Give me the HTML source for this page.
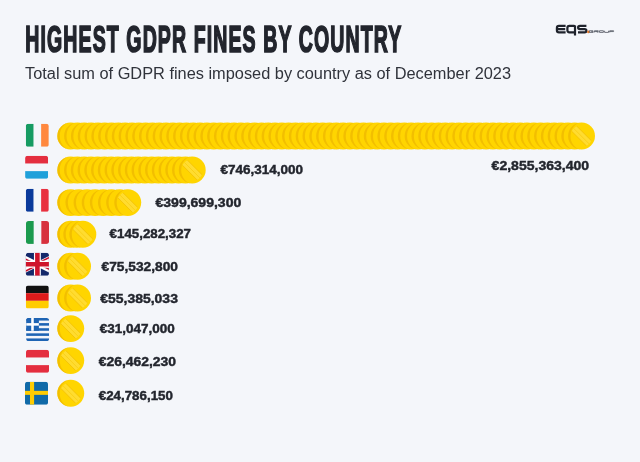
<!DOCTYPE html>
<html><head><meta charset="utf-8"><style>
html,body{margin:0;padding:0;background:#F4F6FA;}
body{width:640px;height:462px;overflow:hidden;position:relative;font-family:"Liberation Sans",sans-serif;}
svg{position:absolute;left:0;top:0;will-change:transform;}
.lb{font-family:"Liberation Sans",sans-serif;font-weight:bold;font-size:13.5px;fill:#22252D;stroke:#22252D;stroke-width:0.45px;}
</style></head><body>
<svg width="640" height="462" viewBox="0 0 640 462">
<defs>
<clipPath id="cclip"><circle r="10.85"/></clipPath>
<g id="coin">
<circle r="13.45" fill="#FFD500"/>
<path d="M0 -13.45 A13.45 13.45 0 0 0 0 13.45 A11.049999999999999 13.45 0 0 1 0 -13.45Z" fill="#EDB500" opacity="0.7"/>
</g>
<g id="coinT">
<use href="#coin"/>
<g clip-path="url(#cclip)" transform="rotate(45)">
<rect x="-14" y="-3.6" width="28" height="7.2" fill="#FFDC30"/>
<path d="M-14 -3.6H14M-14 3.6H14" stroke="#F0BC00" stroke-width="0.9" opacity="0.75"/>
<path d="M-14 0.2H14" stroke="#F5C400" stroke-width="0.8" opacity="0.6"/>
</g>
</g>
</defs>
<text x="25.3" y="52.3" font-family="Liberation Sans" font-weight="bold" font-size="36" letter-spacing="2" fill="#22252D" stroke="#22252D" stroke-width="1.7" textLength="377" lengthAdjust="spacingAndGlyphs">HIGHEST GDPR FINES BY COUNTRY</text>
<text x="25" y="78.7" font-family="Liberation Sans" font-size="16" fill="#30333B" textLength="486" lengthAdjust="spacingAndGlyphs">Total sum of GDPR fines imposed by country as of December 2023</text>
<g fill="none" stroke="#1F232C" stroke-width="2.2">
<path d="M565.6 25.8H559Q556.9 25.8 556.9 27.9V30.2Q556.9 32.3 559 32.3H565.6M556.9 29.05H565.2"/>
<path d="M575 29.05V26.8Q575 25.8 574 25.8H569.4Q567.4 25.8 567.4 27.8V30.3Q567.4 32.3 569.4 32.3H575M575 25.8V35.6"/>
<path d="M586.4 25.8H580Q578.1 25.8 578.1 27.5Q578.1 29.05 580 29.05H584.6Q586.4 29.05 586.4 30.7Q586.4 32.3 584.6 32.3H578"/>
</g>
<circle cx="588.4" cy="31.9" r="1.3" fill="#EE7A23"/>
<path d="M593.20 30.75H589.30V32.4H593.20V31.57H591.25M594.40 32.4V30.75H598.30V31.57H594.40M596.35 31.57L598.30 32.4M599.50 30.75H603.40V32.4H599.50ZM604.60 30.75V32.4H608.50V30.75M609.70 32.4V30.75H613.60V31.57H609.70" fill="none" stroke="#575C67" stroke-width="0.85"/>
<clipPath id="c_ie"><rect x="25.8" y="123.75" width="23" height="23" rx="2.6"/></clipPath><g clip-path="url(#c_ie)"><rect x="25.8" y="123.75" width="7.666666666666667" height="23" fill="#169B62"/><rect x="41.13333333333333" y="123.75" width="7.666666666666667" height="23" fill="#FF883E"/></g><use href="#coin" x="70.75" y="136.00"/><use href="#coin" x="77.56" y="136.00"/><use href="#coin" x="84.37" y="136.00"/><use href="#coin" x="91.18" y="136.00"/><use href="#coin" x="97.99" y="136.00"/><use href="#coin" x="104.80" y="136.00"/><use href="#coin" x="111.61" y="136.00"/><use href="#coin" x="118.42" y="136.00"/><use href="#coin" x="125.24" y="136.00"/><use href="#coin" x="132.05" y="136.00"/><use href="#coin" x="138.86" y="136.00"/><use href="#coin" x="145.67" y="136.00"/><use href="#coin" x="152.48" y="136.00"/><use href="#coin" x="159.29" y="136.00"/><use href="#coin" x="166.10" y="136.00"/><use href="#coin" x="172.91" y="136.00"/><use href="#coin" x="179.72" y="136.00"/><use href="#coin" x="186.53" y="136.00"/><use href="#coin" x="193.34" y="136.00"/><use href="#coin" x="200.15" y="136.00"/><use href="#coin" x="206.96" y="136.00"/><use href="#coin" x="213.77" y="136.00"/><use href="#coin" x="220.58" y="136.00"/><use href="#coin" x="227.40" y="136.00"/><use href="#coin" x="234.21" y="136.00"/><use href="#coin" x="241.02" y="136.00"/><use href="#coin" x="247.83" y="136.00"/><use href="#coin" x="254.64" y="136.00"/><use href="#coin" x="261.45" y="136.00"/><use href="#coin" x="268.26" y="136.00"/><use href="#coin" x="275.07" y="136.00"/><use href="#coin" x="281.88" y="136.00"/><use href="#coin" x="288.69" y="136.00"/><use href="#coin" x="295.50" y="136.00"/><use href="#coin" x="302.31" y="136.00"/><use href="#coin" x="309.12" y="136.00"/><use href="#coin" x="315.93" y="136.00"/><use href="#coin" x="322.74" y="136.00"/><use href="#coin" x="329.56" y="136.00"/><use href="#coin" x="336.37" y="136.00"/><use href="#coin" x="343.18" y="136.00"/><use href="#coin" x="349.99" y="136.00"/><use href="#coin" x="356.80" y="136.00"/><use href="#coin" x="363.61" y="136.00"/><use href="#coin" x="370.42" y="136.00"/><use href="#coin" x="377.23" y="136.00"/><use href="#coin" x="384.04" y="136.00"/><use href="#coin" x="390.85" y="136.00"/><use href="#coin" x="397.66" y="136.00"/><use href="#coin" x="404.47" y="136.00"/><use href="#coin" x="411.28" y="136.00"/><use href="#coin" x="418.09" y="136.00"/><use href="#coin" x="424.90" y="136.00"/><use href="#coin" x="431.72" y="136.00"/><use href="#coin" x="438.53" y="136.00"/><use href="#coin" x="445.34" y="136.00"/><use href="#coin" x="452.15" y="136.00"/><use href="#coin" x="458.96" y="136.00"/><use href="#coin" x="465.77" y="136.00"/><use href="#coin" x="472.58" y="136.00"/><use href="#coin" x="479.39" y="136.00"/><use href="#coin" x="486.20" y="136.00"/><use href="#coin" x="493.01" y="136.00"/><use href="#coin" x="499.82" y="136.00"/><use href="#coin" x="506.63" y="136.00"/><use href="#coin" x="513.44" y="136.00"/><use href="#coin" x="520.25" y="136.00"/><use href="#coin" x="527.06" y="136.00"/><use href="#coin" x="533.88" y="136.00"/><use href="#coin" x="540.69" y="136.00"/><use href="#coin" x="547.50" y="136.00"/><use href="#coin" x="554.31" y="136.00"/><use href="#coin" x="561.12" y="136.00"/><use href="#coin" x="567.93" y="136.00"/><use href="#coin" x="574.74" y="136.00"/><use href="#coinT" x="581.55" y="136.00"/><clipPath id="c_lu"><rect x="25.1" y="155.8" width="23" height="23" rx="2.6"/></clipPath><g clip-path="url(#c_lu)"><rect x="25.1" y="155.8" width="23" height="7.666666666666667" fill="#E42E3F"/><rect x="25.1" y="171.13333333333335" width="23" height="7.666666666666667" fill="#1FA0DA"/></g><use href="#coin" x="70.75" y="170.00"/><use href="#coin" x="77.50" y="170.00"/><use href="#coin" x="84.25" y="170.00"/><use href="#coin" x="91.00" y="170.00"/><use href="#coin" x="97.75" y="170.00"/><use href="#coin" x="104.50" y="170.00"/><use href="#coin" x="111.25" y="170.00"/><use href="#coin" x="118.00" y="170.00"/><use href="#coin" x="124.75" y="170.00"/><use href="#coin" x="131.50" y="170.00"/><use href="#coin" x="138.25" y="170.00"/><use href="#coin" x="145.00" y="170.00"/><use href="#coin" x="151.75" y="170.00"/><use href="#coin" x="158.50" y="170.00"/><use href="#coin" x="165.25" y="170.00"/><use href="#coin" x="172.00" y="170.00"/><use href="#coin" x="178.75" y="170.00"/><use href="#coin" x="185.50" y="170.00"/><use href="#coinT" x="192.25" y="170.00"/><clipPath id="c_fr"><rect x="25.8" y="188.8" width="23" height="23" rx="2.6"/></clipPath><g clip-path="url(#c_fr)"><rect x="25.8" y="188.8" width="7.666666666666667" height="23" fill="#0A3A9B"/><rect x="41.13333333333333" y="188.8" width="7.666666666666667" height="23" fill="#E8303F"/></g><use href="#coin" x="70.75" y="202.60"/><use href="#coin" x="78.89" y="202.60"/><use href="#coin" x="87.04" y="202.60"/><use href="#coin" x="95.18" y="202.60"/><use href="#coin" x="103.32" y="202.60"/><use href="#coin" x="111.46" y="202.60"/><use href="#coin" x="119.61" y="202.60"/><use href="#coinT" x="127.75" y="202.60"/><clipPath id="c_it"><rect x="26.0" y="220.9" width="23" height="23" rx="2.6"/></clipPath><g clip-path="url(#c_it)"><rect x="26.0" y="220.9" width="7.666666666666667" height="23" fill="#1B9A4E"/><rect x="41.333333333333336" y="220.9" width="7.666666666666667" height="23" fill="#D7313E"/></g><use href="#coin" x="70.75" y="234.20"/><use href="#coin" x="76.80" y="234.20"/><use href="#coinT" x="82.85" y="234.20"/><clipPath id="c_gb"><rect x="25.9" y="252.75" width="23" height="23" rx="2.6"/></clipPath><g clip-path="url(#c_gb)"><g transform="translate(14.400 252.750) scale(0.7667)"><rect width="60" height="30" fill="#14296B"/><path d="M0,0 L60,30 M60,0 L0,30" stroke="#fff" stroke-width="6"/><clipPath id="ukt"><path d="M30,15 h30 v15 z v15 h-30 z h-30 v-15 z v-15 h30 z"/></clipPath><path d="M0,0 L60,30 M60,0 L0,30" clip-path="url(#ukt)" stroke="#C8102E" stroke-width="4"/><path d="M30,0 v30 M0,15 h60" stroke="#fff" stroke-width="9"/><path d="M30,0 v30 M0,15 h60" stroke="#CF142B" stroke-width="6"/></g></g><use href="#coin" x="70.75" y="266.20"/><use href="#coinT" x="77.55" y="266.20"/><clipPath id="c_de"><rect x="25.8" y="285.5" width="23" height="23" rx="2.6"/></clipPath><g clip-path="url(#c_de)"><rect x="25.8" y="285.5" width="23" height="7.666666666666667" fill="#111"/><rect x="25.8" y="293.1666666666667" width="23" height="7.666666666666667" fill="#DD1B1B"/><rect x="25.8" y="300.8333333333333" width="23" height="7.666666666666667" fill="#FFCC00"/></g><use href="#coin" x="70.75" y="298.00"/><use href="#coinT" x="77.55" y="298.00"/><clipPath id="c_gr"><rect x="26.1" y="318.0" width="23" height="23" rx="2.6"/></clipPath><g clip-path="url(#c_gr)"><rect x="26.1" y="318.0" width="23" height="2.5555555555555554" fill="#1E64B4"/><rect x="26.1" y="323.1111111111111" width="23" height="2.5555555555555554" fill="#1E64B4"/><rect x="26.1" y="328.22222222222223" width="23" height="2.5555555555555554" fill="#1E64B4"/><rect x="26.1" y="333.3333333333333" width="23" height="2.5555555555555554" fill="#1E64B4"/><rect x="26.1" y="338.44444444444446" width="23" height="2.5555555555555554" fill="#1E64B4"/><rect x="26.1" y="318.0" width="12.777777777777777" height="12.777777777777777" fill="#1E64B4"/><rect x="31.211111111111112" y="318.0" width="2.5555555555555554" height="12.777777777777777" fill="#fff"/><rect x="26.1" y="323.1111111111111" width="12.777777777777777" height="2.5555555555555554" fill="#fff"/></g><use href="#coinT" x="70.75" y="328.60"/><clipPath id="c_at"><rect x="26.0" y="349.8" width="23" height="23" rx="2.6"/></clipPath><g clip-path="url(#c_at)"><rect x="26.0" y="349.8" width="23" height="7.666666666666667" fill="#E42E3F"/><rect x="26.0" y="365.1333333333333" width="23" height="7.666666666666667" fill="#E42E3F"/></g><use href="#coinT" x="70.75" y="360.60"/><clipPath id="c_se"><rect x="25.0" y="381.75" width="23" height="23" rx="2.6"/></clipPath><g clip-path="url(#c_se)"><rect x="25.0" y="381.75" width="23" height="23" fill="#106AA8"/><rect x="30.0" y="381.75" width="4.1" height="23" fill="#FECC02"/><rect x="25.0" y="390.85" width="23" height="4.0" fill="#FECC02"/></g><use href="#coinT" x="70.75" y="393.30"/><text x="491.60" y="170.10" class="lb" textLength="97.50" lengthAdjust="spacingAndGlyphs">€2,855,363,400</text><text x="220.50" y="174.00" class="lb" textLength="82.50" lengthAdjust="spacingAndGlyphs">€746,314,000</text><text x="155.50" y="207.00" class="lb" textLength="85.75" lengthAdjust="spacingAndGlyphs">€399,699,300</text><text x="109.60" y="238.25" class="lb" textLength="81.40" lengthAdjust="spacingAndGlyphs">€145,282,327</text><text x="101.60" y="270.70" class="lb" textLength="76.30" lengthAdjust="spacingAndGlyphs">€75,532,800</text><text x="100.25" y="302.90" class="lb" textLength="77.65" lengthAdjust="spacingAndGlyphs">€55,385,033</text><text x="99.70" y="333.00" class="lb" textLength="75.00" lengthAdjust="spacingAndGlyphs">€31,047,000</text><text x="98.75" y="366.10" class="lb" textLength="77.25" lengthAdjust="spacingAndGlyphs">€26,462,230</text><text x="98.75" y="399.50" class="lb" textLength="74.15" lengthAdjust="spacingAndGlyphs">€24,786,150</text>
</svg>
</body></html>
